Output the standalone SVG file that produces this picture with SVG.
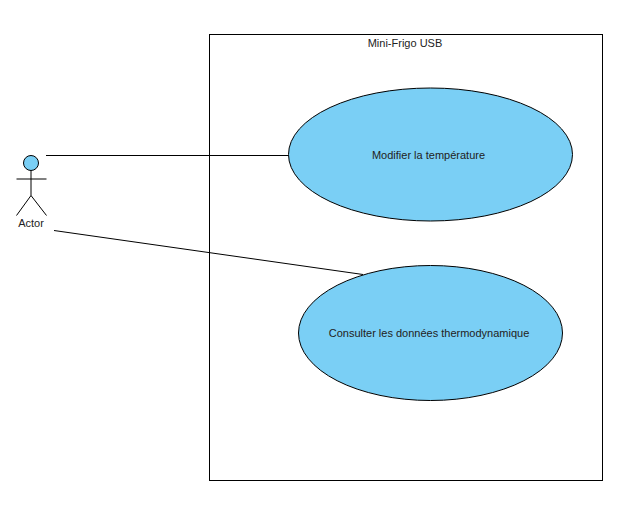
<svg xmlns="http://www.w3.org/2000/svg" width="641" height="505" viewBox="0 0 641 505">
<style>
text{font-family:"Liberation Sans",Arial,sans-serif;font-size:11px;fill:#222;text-anchor:middle}
.s{fill:none;stroke:#000;stroke-width:1}
.u{fill:#7acff5;stroke:#000;stroke-width:1}
</style>
<rect width="641" height="505" fill="#fff"/>
<g id="system">
<rect class="s" x="209.500" y="34.500" width="393" height="446"/>
<text x="405" y="47">Mini-Frigo USB</text>
</g>
<g id="connectors">
<line class="s" x1="46" y1="155.500" x2="288.500" y2="155.500"/>
<line class="s" x1="54" y1="230.500" x2="363" y2="274.500"/>
</g>
<g id="usecase-modifier">
<ellipse class="u" cx="430.500" cy="154.500" rx="142" ry="66.500"/>
<text x="428.500" y="159">Modifier la température</text>
</g>
<g id="usecase-consulter">
<ellipse class="u" cx="430.500" cy="333" rx="132" ry="67.500"/>
<text x="429" y="337">Consulter les données thermodynamique</text>
</g>
<g id="actor">
<circle class="u" cx="31" cy="163" r="7.500"/>
<path class="s" d="M31 170.500V195.500M16.500 179H46.500M16.500 215.500L31 195.500L46.500 215.500"/>
<text x="31" y="227">Actor</text>
</g>
</svg>
